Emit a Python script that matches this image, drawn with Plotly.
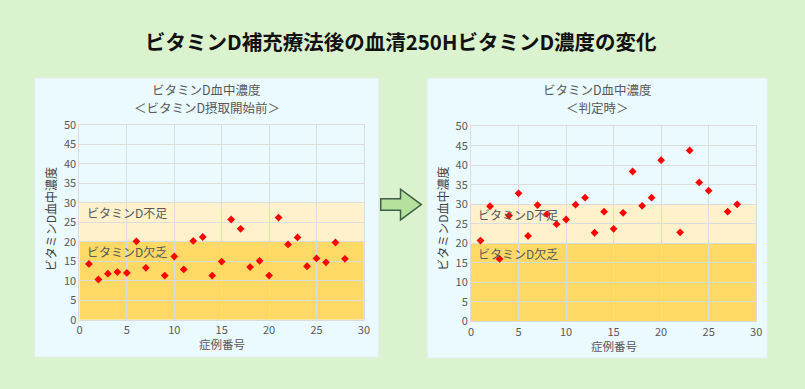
import plotly.graph_objects as go

W, H = 805, 389

# ---- data ----
cases_before = [1, 2, 3, 4, 5, 6, 7, 9, 10, 11, 12, 13, 14, 15, 16, 17, 18, 19, 20, 21, 22, 23, 24, 25, 26, 27, 28]
vitd_before = [14.3, 10.3, 11.8, 12.2, 12.0, 20.1, 13.3, 11.3, 16.2, 12.9, 20.2, 21.2, 11.3, 14.9, 25.7, 23.3,
               13.5, 15.1, 11.3, 26.2, 19.3, 21.1, 13.7, 15.7, 14.7, 19.8, 15.6]

cases_after = [1, 2, 3, 4, 5, 6, 7, 8, 9, 10, 11, 12, 13, 14, 15, 16, 17, 18, 19, 20, 22, 23, 24, 25, 27, 28]
vitd_after = [20.7, 29.5, 16.0, 27.1, 32.8, 21.9, 29.8, 27.5, 24.9, 26.1, 29.9, 31.7, 22.7, 28.1, 23.7, 27.8,
              38.4, 29.6, 31.7, 41.3, 22.8, 43.8, 35.6, 33.5, 28.1, 30.0]

bands = [(0, 20, "ビタミンD欠乏"), (20, 30, "ビタミンD不足")]
band_label_y = [17.4, 27.4]
x_ticks = [0, 5, 10, 15, 20, 25, 30]
y_ticks = [0, 5, 10, 15, 20, 25, 30, 35, 40, 45, 50]

main_title = "ビタミンD補充療法後の血清250HビタミンD濃度の変化"
sub_titles = [["ビタミンD血中濃度", "＜ビタミンD摂取開始前＞"], ["ビタミンD血中濃度", "＜判定時＞"]]
x_title = "症例番号"
y_title = "ビタミンD血中濃度"

FONT = "Noto Sans CJK JP"
BG = "#dbf2cf"
PANEL = "#ebfaff"
GRID = "#dcdcdc"
TXT = "#595959"

def px(x):
    return x / W

def py(y):
    return 1 - y / H

fig = go.Figure()

fig.add_trace(go.Scatter(x=cases_before, y=vitd_before, mode="markers", xaxis="x", yaxis="y",
                         marker=dict(symbol="diamond", size=6, color="#ff0000"), showlegend=False,
                         hoverinfo="skip"))
fig.add_trace(go.Scatter(x=cases_after, y=vitd_after, mode="markers", xaxis="x2", yaxis="y2",
                         marker=dict(symbol="diamond", size=6, color="#ff0000"), showlegend=False,
                         hoverinfo="skip"))

axis_common = dict(showgrid=True, gridcolor=GRID, gridwidth=1, zeroline=False, showline=True,
                   linecolor=GRID, linewidth=1, mirror=True, ticks="",
                   tickfont=dict(family=FONT, size=11, color=TXT))

panels = [
    dict(x0=32, x1=380, y0=72, y1=363, dom_x=(77.3, 365.0), dom_y=(324.0, 120.7), xa="x", ya="y", xt=349),
    dict(x0=429, x1=773, y0=72, y1=364, dom_x=(473.3, 761.7), dom_y=(325.7, 122.3), xa="x2", ya="y2", xt=351),
]

shapes = []
annotations = []
layout_axes = {}
for i, p in enumerate(panels):
    # panel background
    shapes.append(dict(type="rect", xref="paper", yref="paper", layer="below",
                       x0=px(p["x0"]), x1=px(p["x1"]), y0=py(p["y1"]), y1=py(p["y0"]),
                       fillcolor=PANEL, line=dict(color="#e3ecef", width=1)))
    # bands
    for (lo, hi, _), col in zip(bands, ["#ffd966", "#fff1cc"]):
        shapes.append(dict(type="rect", xref=p["xa"], yref=p["ya"], layer="below",
                           x0=0, x1=30, y0=lo, y1=hi, fillcolor=col, line=dict(width=0)))
    for (lo, hi, label), ly in zip(bands, band_label_y):
        annotations.append(dict(xref=p["xa"], yref=p["ya"], x=0.55, y=ly, text=label, showarrow=False,
                                xanchor="left", yanchor="middle",
                                font=dict(family=FONT, size=12, color=TXT)))
    # subtitle (two lines)
    for line, ly in zip(sub_titles[i], [84, 102.5]):
        annotations.append(dict(xref="paper", yref="paper", x=px((p["x0"] + p["x1"]) / 2), y=py(ly),
                                text=line, showarrow=False, xanchor="center", yanchor="middle", borderpad=0,
                                font=dict(family=FONT, size=12.5, color=TXT)))
    # x title
    annotations.append(dict(xref="paper", yref="paper", x=px((p["dom_x"][0] + p["dom_x"][1]) / 2), y=py(p["xt"]),
                            text=x_title, showarrow=False, xanchor="center", yanchor="middle",
                            font=dict(family=FONT, size=11.5, color=TXT)))
    # y title
    annotations.append(dict(xref="paper", yref="paper", x=px(p["dom_x"][0] - 28.5), y=py(219),
                            text=y_title, showarrow=False, xanchor="center", yanchor="middle", textangle=-90,
                            font=dict(family=FONT, size=12, color="#404040")))
    sfx = "" if i == 0 else "2"
    layout_axes["xaxis" + sfx] = dict(axis_common, domain=[px(p["dom_x"][0]), px(p["dom_x"][1])],
                                      range=[0, 30], tickvals=x_ticks, anchor="y" + sfx)
    layout_axes["yaxis" + sfx] = dict(axis_common, domain=[py(p["dom_y"][0]), py(p["dom_y"][1])],
                                      range=[0, 50], tickvals=y_ticks, anchor="x" + sfx)

# arrow
arrow_pts = [(382, 198), (402, 198), (402, 188), (423, 204), (402, 220), (402, 210), (382, 210)]
path = "M " + " L ".join(f"{px(x):.5f},{py(y):.5f}" for x, y in arrow_pts) + " Z"
shapes.append(dict(type="path", xref="paper", yref="paper", path=path, layer="above",
                   fillcolor="#b4e29d", line=dict(color="#3f5f48", width=1.5)))

annotations.append(dict(xref="paper", yref="paper", x=0.5, y=py(33), text="<b>" + main_title + "</b>",
                        showarrow=False, xanchor="center", yanchor="middle",
                        font=dict(family=FONT, size=20.5, color="#111111")))

fig.update_layout(width=W, height=H, margin=dict(l=0, r=0, t=0, b=0), paper_bgcolor=BG,
                  plot_bgcolor="rgba(0,0,0,0)", shapes=shapes, annotations=annotations,
                  showlegend=False, hovermode=False, **layout_axes)

fig.write_html("out.html", config={"displayModeBar": False},
               post_script="document.body.style.margin='0';document.body.style.background='" + BG + "';")
